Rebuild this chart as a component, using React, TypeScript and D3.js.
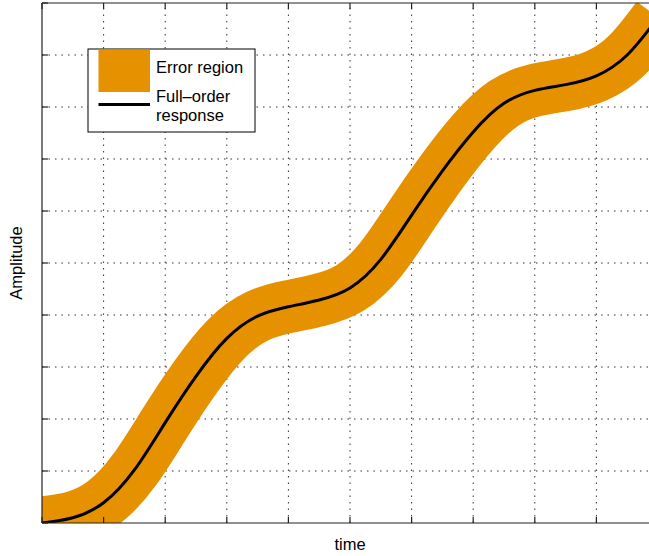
import * as d3 from "d3";

const times = [0, 0.5, 1, 1.5, 2, 2.5, 3, 3.5, 4, 4.5, 5, 5.5, 6, 6.5, 7, 7.5, 8, 8.5, 9, 9.5, 10];
const amplitude = [0, 0.1, 0.39, 1.02, 1.93, 2.82, 3.55, 3.98, 4.16, 4.29, 4.52, 5.07, 5.92, 6.77, 7.52, 8.07, 8.32, 8.43, 8.6, 9.0, 9.72];
const xTicks = [0, 1, 2, 3, 4, 5, 6, 7, 8, 9, 10];
const yTicks = [0, 1, 2, 3, 4, 5, 6, 7, 8, 9, 10];
const legendLabels = ["Error region", "Full\u2013order", "response"];

const width = 649;
const height = 556;
const margin = { left: 42, top: 3, right: 658, bottom: 523 };
const orange = "#e69200";
const font = "'Liberation Sans', Arial, Helvetica, sans-serif";

export default function App() {
  const x = d3.scaleLinear().domain([0, 10]).range([margin.left, margin.right]);
  const y = d3.scaleLinear().domain([0, 10]).range([margin.bottom, margin.top]);

  const pts = times.map((t, i) => [t, amplitude[i]] as [number, number]);
  const line = d3
    .line<[number, number]>()
    .x((d) => x(d[0]))
    .y((d) => y(d[1]))
    .curve(d3.curveNatural);
  const path = line(pts) || "";

  const tickLen = 6;

  return (
    <svg
      width={width}
      height={height}
      style={{ position: "absolute", left: 0, top: 0, background: "#fff" }}
      fontFamily={font}
    >
      <defs>
        <clipPath id="plot">
          <rect x={margin.left} y={margin.top} width={margin.right - margin.left} height={margin.bottom - margin.top} />
        </clipPath>
      </defs>
      <rect x={0} y={0} width={width} height={height} fill="#fff" />

      {/* grid */}
      <g stroke="#333" strokeWidth={1} strokeDasharray="1.5,5">
        {xTicks.slice(1, -1).map((t) => (
          <line key={"gx" + t} x1={x(t)} x2={x(t)} y1={margin.bottom} y2={margin.top} />
        ))}
        {yTicks.slice(1, -1).map((t) => (
          <line key={"gy" + t} x1={margin.left} x2={margin.right} y1={y(t)} y2={y(t)} />
        ))}
      </g>

      {/* error band (thick stroke around the response) and response */}
      <g clipPath="url(#plot)">
        <path d={path} fill="none" stroke={orange} strokeWidth={53} strokeLinecap="butt" strokeLinejoin="round" />
        <path d={path} fill="none" stroke="#000" strokeWidth={3} />
      </g>

      {/* axes */}
      <g stroke="#222" strokeWidth={1.2}>
        <line x1={margin.left} x2={margin.left} y1={margin.top} y2={margin.bottom} />
        <line x1={margin.left} x2={margin.right} y1={margin.bottom} y2={margin.bottom} />
        <line x1={margin.left} x2={margin.right} y1={margin.top} y2={margin.top} />
        {xTicks.map((t) => (
          <g key={"tx" + t}>
            <line x1={x(t)} x2={x(t)} y1={margin.bottom} y2={margin.bottom - tickLen} />
            <line x1={x(t)} x2={x(t)} y1={margin.top} y2={margin.top + tickLen} />
          </g>
        ))}
        {yTicks.map((t) => (
          <line key={"ty" + t} x1={margin.left} x2={margin.left + tickLen} y1={y(t)} y2={y(t)} />
        ))}
      </g>

      {/* axis labels */}
      <text x={350} y={550} fontSize={16.5} textAnchor="middle" fill="#000">
        time
      </text>
      <text transform={`translate(22,263) rotate(-90)`} fontSize={16.5} textAnchor="middle" fill="#000">
        Amplitude
      </text>

      {/* legend */}
      <g>
        <rect x={88} y={49} width={167} height={83} fill="#fff" stroke="#000" strokeWidth={1} />
        <rect x={98.5} y={49.5} width={51.5} height={42.5} fill={orange} />
        <line x1={98.5} x2={150} y1={104.5} y2={104.5} stroke="#000" strokeWidth={3} />
        <text x={156} y={72.5} fontSize={16.5} fill="#000">
          {legendLabels[0]}
        </text>
        <text x={156} y={101.5} fontSize={16.5} fill="#000">
          {legendLabels[1]}
        </text>
        <text x={156} y={120.5} fontSize={16.5} fill="#000">
          {legendLabels[2]}
        </text>
      </g>
    </svg>
  );
}
